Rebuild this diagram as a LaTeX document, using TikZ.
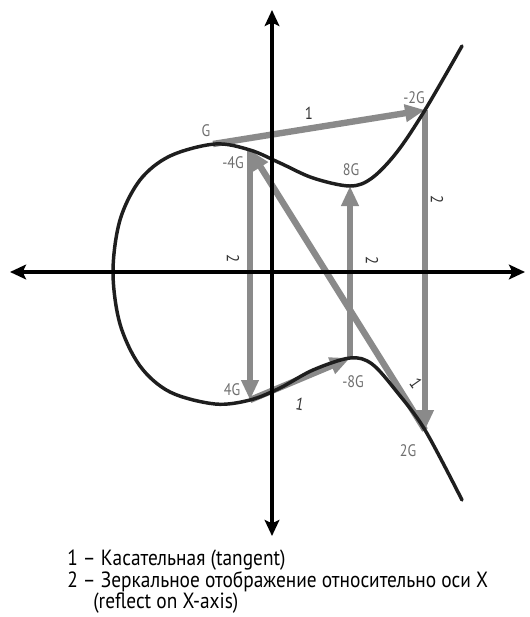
\documentclass[tikz,border=0pt]{standalone}
\usepackage{fontspec}
\setmainfont{PT Sans}
\newfontfamily\narrowfont[FakeStretch=0.85]{PT Sans}
\newfontfamily\legendfont[FakeStretch=0.88]{PT Sans}
\usetikzlibrary{arrows.meta}
\definecolor{arrowgray}{HTML}{8A8A8A}
\definecolor{labelgray}{HTML}{6E6E6E}
\definecolor{numgray}{HTML}{333333}
\definecolor{curveblack}{HTML}{1E1E1E}
\begin{document}
\begin{tikzpicture}[x=0.75pt,y=-0.75pt,
  garrow/.style={draw=arrowgray, line width=4.8pt, -{Triangle[length=15pt,width=12.5pt]}, fill=arrowgray},
  axisline/.style={draw=black, line width=3pt, {Stealth[length=12pt,width=11pt,inset=2.5pt]}-{Stealth[length=12pt,width=11pt,inset=2.5pt]}},
  curveline/.style={draw=curveblack, line width=2.6pt, line cap=round},
  ptlabel/.style={text=labelgray, font=\narrowfont\fontsize{12.5}{13}\selectfont, inner sep=0pt},
  numlabel/.style={text=numgray, font=\narrowfont\fontsize{13}{14}\selectfont, inner sep=0pt},
  legend/.style={anchor=base west, inner sep=0pt, font=\legendfont\fontsize{16.5}{18}\selectfont, text=black}
]
\useasboundingbox (0,0) rectangle (530,617);

% points on the curve
\coordinate (G) at (213,144);
\coordinate (m2G) at (425,110);
\coordinate (p2G) at (425,430);
\coordinate (m4G) at (250,150);
\coordinate (p4G) at (250,400);
\coordinate (m8G) at (350,358);
\coordinate (p8G) at (350,186);

% axis end points
\coordinate (xl) at (10,272);
\coordinate (xr) at (525,272);
\coordinate (yt) at (272,10);
\coordinate (yb) at (272,536);

% gray construction arrows
\draw[garrow] (G) -- (m2G);
\draw[garrow] (m2G) -- (p2G);
\draw[garrow] (p2G) -- (m4G);
\draw[garrow] (m4G) -- (p4G);
\draw[garrow] (p4G) -- (m8G);
\draw[garrow] (m8G) -- (p8G);

% elliptic curve
\draw[curveline] plot[smooth, tension=0.55] coordinates {
  (462,46) (425,110) (397,152) (372,178) (350,186) (313,178) (280,163)
  (250,150) (215,144) (170,156) (140,180) (120,220) (113,272)
  (120,324) (140,366) (170,392) (215,404) (250,400) (280,388)
  (313,370) (350,358) (372,364) (397,392) (425,430) (462,500)};

% axes
\draw[axisline] (xl) -- (xr);
\draw[axisline] (yb) -- (yt);

% point labels
\node[ptlabel] (lG) at (206,131) {G};
\node[ptlabel] (lm4G) at (233,163) {-4G};
\node[ptlabel] (l8G) at (351,170) {8G};
\node[ptlabel] (lm2G) at (414,98) {-2G};
\node[ptlabel] (l4G) at (232,390) {4G};
\node[ptlabel] (lm8G) at (353,382) {-8G};
\node[ptlabel] (l2G) at (408,451) {2G};

% step numbers
\node[numlabel] (n1a) at (309,113) {1};
\node[numlabel, rotate=-90] (n2a) at (437,200) {2};
\node[numlabel, rotate=-55] (n1b) at (416,383) {1};
\node[numlabel, rotate=-90] (n2b) at (233,259) {2};
\node[numlabel, rotate=-10] (n1c) at (300,404) {1};
\node[numlabel, rotate=-90] (n2c) at (372,261) {2};

% legend
\node[legend] (leg1) at (67,565) {1 – Касательная (tangent)};
\node[legend] (leg2) at (67,587) {2 – Зеркальное отображение относительно оси X};
\node[legend] (leg3) at (93,608) {(reflect on X-axis)};
\end{tikzpicture}
\end{document}
